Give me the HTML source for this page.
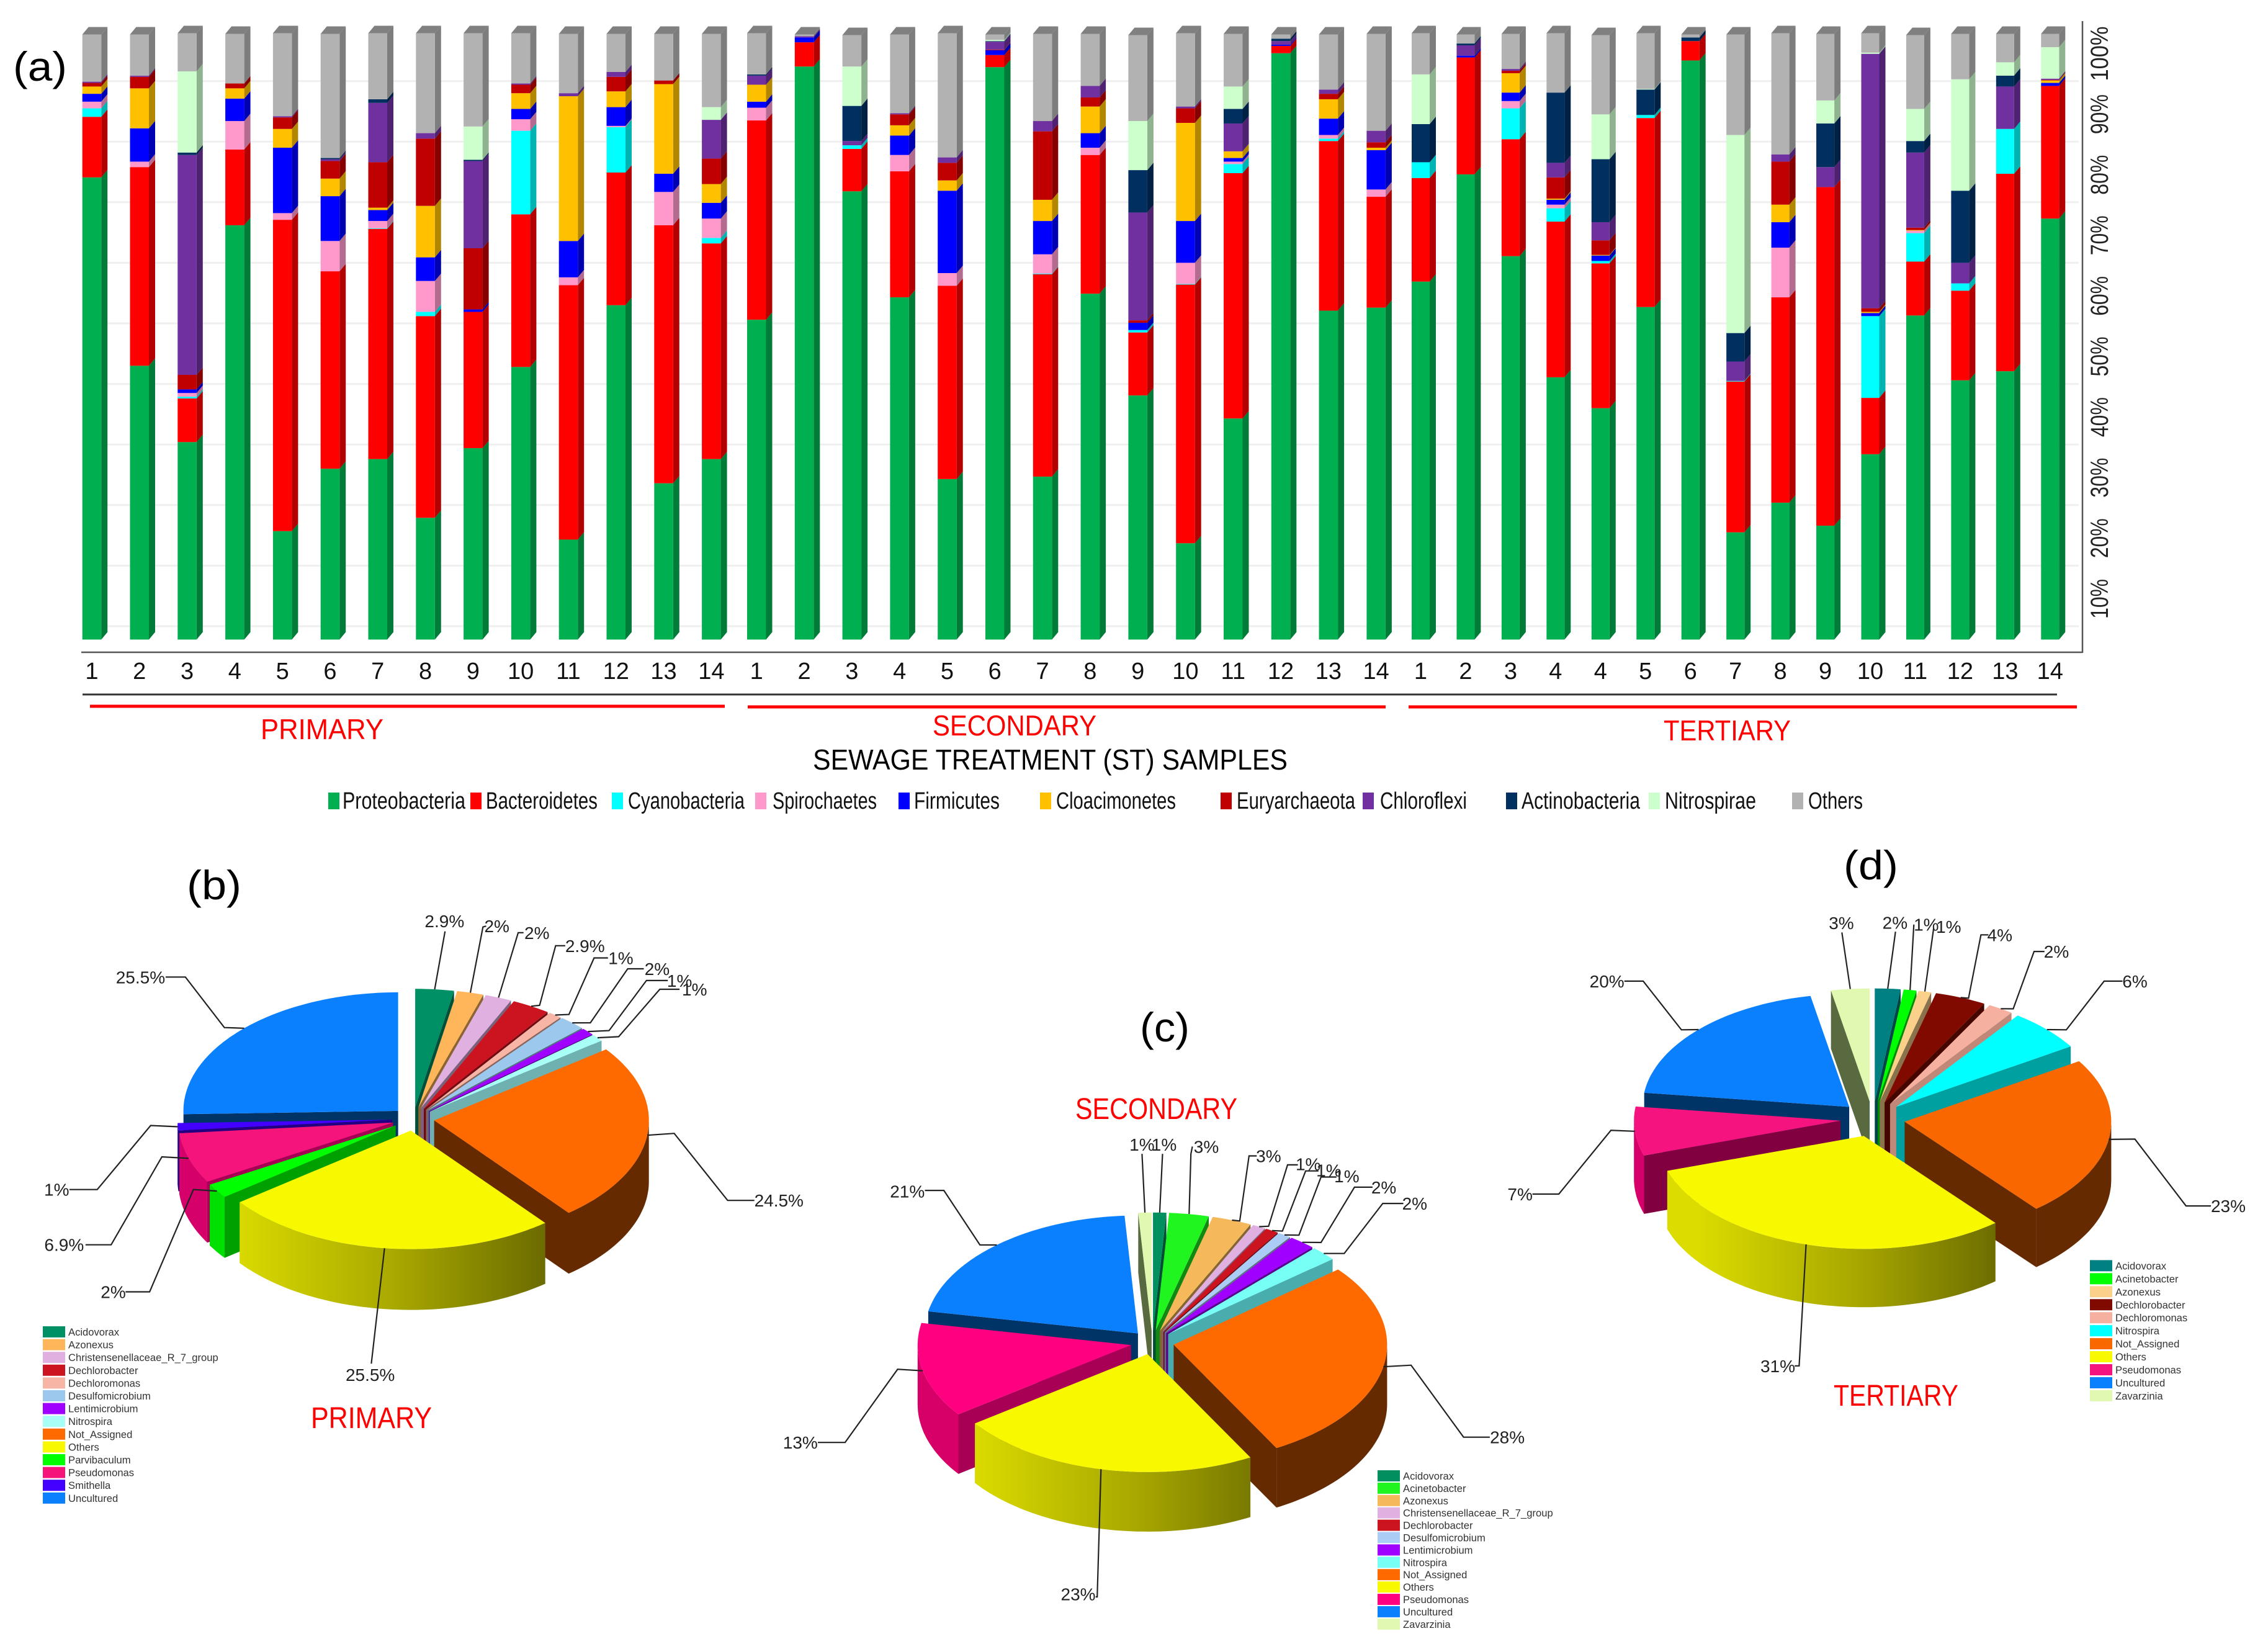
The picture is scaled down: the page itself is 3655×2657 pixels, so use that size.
<!DOCTYPE html>
<html lang="en">
<head>
<meta charset="utf-8">
<title>Sewage treatment microbial community composition</title>
<style>
html,body{margin:0;padding:0;background:#fff;}
svg{display:block;font-family:"Liberation Sans",sans-serif;}
</style>
</head>
<body>
<svg id="figure" xmlns="http://www.w3.org/2000/svg" width="3655" height="2657" viewBox="0 0 3655 2657">
<rect x="0" y="0" width="3655" height="2657" fill="#ffffff"/>
<g id="grid-layer"></g>
<g id="bar-layer"></g>
<g id="axis-layer"></g>

<text x="21" y="130" font-size="66" textLength="87" lengthAdjust="spacingAndGlyphs">(a)</text>
<text x="301" y="1449" font-size="66" textLength="88" lengthAdjust="spacingAndGlyphs">(b)</text>
<text x="1837" y="1678" font-size="66" textLength="80" lengthAdjust="spacingAndGlyphs">(c)</text>
<text x="2971" y="1417" font-size="66" textLength="88" lengthAdjust="spacingAndGlyphs">(d)</text>

<line x1="133" y1="1119" x2="3315" y2="1119" stroke="#333" stroke-width="3"/>
<line x1="145" y1="1138" x2="1168" y2="1138" stroke="#ff0000" stroke-width="5"/>
<line x1="1205" y1="1139" x2="2233" y2="1139" stroke="#ff0000" stroke-width="5"/>
<line x1="2270" y1="1139" x2="3347" y2="1139" stroke="#ff0000" stroke-width="5"/>
<text x="420" y="1191" font-size="46" fill="#ff0000" textLength="198" lengthAdjust="spacingAndGlyphs">PRIMARY</text>
<text x="1503" y="1185" font-size="46" fill="#ff0000" textLength="264" lengthAdjust="spacingAndGlyphs">SECONDARY</text>
<text x="2681" y="1193" font-size="46" fill="#ff0000" textLength="205" lengthAdjust="spacingAndGlyphs">TERTIARY</text>
<text x="1310" y="1240" font-size="46" fill="#000" textLength="765" lengthAdjust="spacingAndGlyphs">SEWAGE TREATMENT (ST) SAMPLES</text>

<g font-size="38" fill="#111">
<g><rect x="529" y="1277" width="18" height="27" fill="#00b050"/><text x="552" y="1303" textLength="198" lengthAdjust="spacingAndGlyphs">Proteobacteria</text></g>
<g><rect x="758" y="1277" width="18" height="27" fill="#ff0000"/><text x="783" y="1303" textLength="180" lengthAdjust="spacingAndGlyphs">Bacteroidetes</text></g>
<g><rect x="986" y="1277" width="18" height="27" fill="#00ffff"/><text x="1012" y="1303" textLength="188" lengthAdjust="spacingAndGlyphs">Cyanobacteria</text></g>
<g><rect x="1217" y="1277" width="18" height="27" fill="#ff99cc"/><text x="1245" y="1303" textLength="168" lengthAdjust="spacingAndGlyphs">Spirochaetes</text></g>
<g><rect x="1448" y="1277" width="18" height="27" fill="#0000ff"/><text x="1473" y="1303" textLength="138" lengthAdjust="spacingAndGlyphs">Firmicutes</text></g>
<g><rect x="1676" y="1277" width="18" height="27" fill="#ffc000"/><text x="1702" y="1303" textLength="193" lengthAdjust="spacingAndGlyphs">Cloacimonetes</text></g>
<g><rect x="1967" y="1277" width="18" height="27" fill="#c00000"/><text x="1993" y="1303" textLength="191" lengthAdjust="spacingAndGlyphs">Euryarchaeota</text></g>
<g><rect x="2196" y="1277" width="18" height="27" fill="#7030a0"/><text x="2224" y="1303" textLength="140" lengthAdjust="spacingAndGlyphs">Chloroflexi</text></g>
<g><rect x="2427" y="1277" width="18" height="27" fill="#002f60"/><text x="2452" y="1303" textLength="191" lengthAdjust="spacingAndGlyphs">Actinobacteria</text></g>
<g><rect x="2657" y="1277" width="18" height="27" fill="#ccffcc"/><text x="2683" y="1303" textLength="147" lengthAdjust="spacingAndGlyphs">Nitrospirae</text></g>
<g><rect x="2888" y="1277" width="18" height="27" fill="#b2b2b2"/><text x="2914" y="1303" textLength="88" lengthAdjust="spacingAndGlyphs">Others</text></g>
</g>

<text x="501" y="2301" font-size="48" fill="#ff0000" textLength="195" lengthAdjust="spacingAndGlyphs">PRIMARY</text>
<text x="1733" y="1803" font-size="48" fill="#ff0000" textLength="261" lengthAdjust="spacingAndGlyphs">SECONDARY</text>
<text x="2955" y="2265" font-size="48" fill="#ff0000" textLength="201" lengthAdjust="spacingAndGlyphs">TERTIARY</text>

<defs id="gradients"></defs>
<g id="pie-b"></g>
<g id="pie-c"></g>
<g id="pie-d"></g>
</svg>

<script>
// ---------- Panel (a) data: percent abundance per sample ----------
const primaryCategories = ['1','2','3','4','5','6','7','8','9','10','11','12','13','14'];
const secondaryCategories = ['1','2','3','4','5','6','7','8','9','10','11','12','13','14'];
const tertiaryCategories = ['1','2','3','4','4','5','6','7','8','9','10','11','12','13','14'];
const yTickLabels = [10,20,30,40,50,60,70,80,90,100];
const gridValues = [0,10,20,30,40,50,60,70,80,90];

const proteobacteria = [76.3,45.2,32.6,68.4,17.9,28.2,29.8,20.1,31.6,45.0,16.5,55.2,25.8,29.8, 52.8,94.6,74.0,56.5,26.5,94.5,26.9,57.1,40.3,15.9,36.5,96.8,54.3,54.8, 59.1,76.8,63.3,43.3,38.2,54.9,95.6,17.7,22.6,18.8,30.6,53.5,42.8,44.3,69.5];
const bacteroidetes = [10.0,32.8,7.2,12.5,51.4,32.6,38.0,33.3,22.5,25.2,42.0,21.9,42.6,35.6, 32.9,4.0,7.0,20.8,31.9,2.0,33.4,22.9,10.4,42.7,40.5,1.2,28.0,18.3, 17.1,19.3,19.3,25.7,23.9,31.2,3.2,24.9,33.9,55.9,9.3,8.9,14.8,32.6,21.9];
const cyanobacteria = [1.4,0,0.3,0,0,0,0.1,0.7,0,13.8,0,7.5,0,0.9, 0,0,0.6,0,0,0,0.1,0,0.4,0.1,1.5,0,0.4,0, 2.6,0,5.1,2.2,0.4,0.5,0,0.1,0,0,13.5,4.7,1.2,7.4,0];
const spirochaetes = [1.1,0.9,0.6,4.7,1.1,5.0,1.2,5.1,0,1.9,1.3,0.2,5.5,3.2, 2.1,0,0,2.7,2.1,0,3.2,1.2,0,3.5,0.4,0,0.6,1.2, 0,0,1.2,0.6,0,0,0,0,8.2,0,0,0.4,0,0,0];
const firmicutes = [1.3,5.5,0.6,3.7,10.8,7.4,1.8,3.9,0.4,1.7,6.0,3.1,3.0,2.6, 1.0,0.8,0,3.2,13.6,0.8,5.5,2.4,1.2,6.9,0.6,0.2,2.7,6.5, 0,0.3,1.4,0.8,0.9,0,0,0,4.2,0,0.5,0,0,0,0.5];
const cloacimonetes = [1.2,6.6,0,1.7,3.1,2.9,0.4,8.5,0,2.6,23.9,2.6,14.8,3.1, 2.8,0,0,1.7,1.7,0,3.5,4.4,0,16.2,1.1,0,3.2,0.4, 0,0,3.2,0.2,0.1,0,0,0,2.9,0,0.2,0.1,0,0,0.4];
const euryarchaeota = [0.6,1.9,2.4,0.8,1.9,2.9,7.5,11.1,10.1,1.4,0,2.4,0.6,4.2, 0,0,0,1.8,2.9,0.1,11.3,1.5,0.4,2.4,0,0,0.9,0.9, 0,0,0.4,3.5,2.4,0,0,0,7.1,0,0.6,0.4,0,0,0.1];
const chloroflexi = [0.2,0.2,36.3,0,0.2,0.3,9.8,0.9,14.4,0.2,0.5,0.8,0,6.4, 1.5,0.2,0.7,0.2,0.9,1.3,1.7,1.9,17.8,0.3,4.6,0.6,0.7,1.9, 0,1.7,0.3,2.4,3.0,0,0,3.2,1.2,3.3,42.0,12.4,3.4,7.0,0.2];
const actinobacteria = [0,0,0.4,0,0,0.2,0.6,0,0.2,0,0,0,0,0, 0.2,0,5.8,0,0,0.1,0,0,7.0,0,2.4,0.4,0,0, 6.3,0.3,0,11.6,10.4,4.2,0.6,4.7,0,7.2,0,1.9,11.9,1.8,0];
const nitrospirae = [0,0,13.4,0,0,0,0,0,5.5,0,0,0,0,2.1, 0,0,6.5,0,0,0.2,0,0,8.1,0,3.7,0,0,0, 8.2,0,0,0,7.4,0.1,0,32.7,0,3.8,0.2,5.3,18.4,2.2,5.2];
const othersPhyla = [7.8,6.8,6.3,8.2,13.7,20.5,10.9,16.5,15.4,8.3,9.8,6.3,7.7,12.1, 6.8,0.3,5.2,13.0,20.5,0.9,14.4,8.6,14.2,12.1,8.7,0.7,9.1,16.0, 6.8,1.5,5.8,9.8,13.1,9.2,0.5,16.6,20.0,11.0,3.2,12.2,7.5,4.7,2.2];

const seriesNames = ['proteobacteria','bacteroidetes','cyanobacteria','spirochaetes','firmicutes','cloacimonetes','euryarchaeota','chloroflexi','actinobacteria','nitrospirae','others'];
const seriesColors = ['#00b050','#ff0000','#00ffff','#ff99cc','#0000ff','#ffc000','#c00000','#7030a0','#002f60','#ccffcc','#b2b2b2'];
const stackedSeries = [proteobacteria,bacteroidetes,cyanobacteria,spirochaetes,firmicutes,cloacimonetes,euryarchaeota,chloroflexi,actinobacteria,nitrospirae,othersPhyla];

// ---------- Pie data ----------
const pieBTaxa = ['Acidovorax','Azonexus','Christensenellaceae_R_7_group','Dechlorobacter','Dechloromonas','Desulfomicrobium','Lentimicrobium','Nitrospira','Not_Assigned','Others','Parvibaculum','Pseudomonas','Smithella','Uncultured'];
const pieBValues = [2.9,2,2,2.9,1,2,1,1,24.5,25.5,2,6.9,1,25.5];
const pieBColors = ['#009066','#ffb55a','#dfb0e0','#cc1420','#f7b5a5','#9cc8ee','#a000ff','#a8fff5','#ff6a00','#f8f800','#00ff00','#f5147a','#4400ff','#0a80ff'];
const pieBLabelSpots = [[832,148],[930,160],[1005,175],[1095,205],[1162,233],[1230,258],[1272,285],[1300,305],[1458,790],[693,1190],[212,1000],[120,892],[106,765],[263,277]];
const pieBElbows = [[[833,172]],[[910,160],[904,162]],[[980,175],[970,175]],[[1058,205],[1040,205],[1010,342]],[[1138,233],[1112,233],[1065,363]],[[1205,258],[1175,258],[1105,382]],[[1250,285],[1210,285],[1140,400]],[[1272,305],[1235,305],[1158,414]],[[1412,790],[1362,790],[1262,636]],[[695,1165]],[[235,1000],[280,1000],[362,765]],[[160,892],[208,892],[303,690]],[[130,765],[182,765],[282,618]],[[310,277],[347,277],[420,393]]];
const pieBShades = {'Not_Assigned':['#662a00','#662a00'],'Uncultured':['#003366','#003366'],'Pseudomonas':['#a50052','#d6006a'],'Parvibaculum':['#00a000','#00e000'],'Nitrospira':['#6fb0b0','#6fb0b0'],'Smithella':['#220080','#220080']};

const pieCTaxa = ['Acidovorax','Acinetobacter','Azonexus','Christensenellaceae_R_7_group','Dechlorobacter','Desulfomicrobium','Lentimicrobium','Nitrospira','Not_Assigned','Others','Pseudomonas','Uncultured','Zavarzinia'];
const pieCValues = [1,3,3,1,1,1,2,2,28,23,13,21,1];
const pieCColors = ['#00905f','#20f520','#f5b85a','#e0b0e0','#cc1420','#aaccf5','#a000ff','#77fff5','#ff6a00','#f8f800','#ff0080','#0a80ff','#e0f8b0'];
const pieCLabelSpots = [[755,327],[837,332],[958,355],[1035,375],[1075,390],[1110,405],[1182,432],[1242,472],[1422,1047],[588,1433],[48,1060],[256,442],[712,327]];
const pieCElbows = [[[752,350]],[[810,332],[807,350]],[[935,355],[920,355],[902,515]],[[1015,377],[995,377],[958,528]],[[1055,392],[1030,392],[985,540]],[[1090,407],[1060,407],[1017,550]],[[1160,432],[1125,432],[1060,568]],[[1220,472],[1180,472],[1105,595]],[[1388,1047],[1337,1047],[1235,870]],[[622,1440],[625,1440]],[[82,1060],[135,1060],[237,880]],[[290,440],[327,440],[397,574]],[[712,350]]];
const pieCShades = {'Not_Assigned':['#662a00','#662a00'],'Uncultured':['#003366','#003366'],'Pseudomonas':['#a80055','#d60068'],'Nitrospira':['#4aadad','#4aadad'],'Zavarzinia':['#5a6a40','#5a6a40']};

const pieDTaxa = ['Acidovorax','Acinetobacter','Azonexus','Dechlorobacter','Dechloromonas','Nitrospira','Not_Assigned','Others','Pseudomonas','Uncultured','Zavarzinia'];
const pieDValues = [2,1,1,4,2,6,23,31,7,20,3];
const pieDColors = ['#008080','#00ff00','#fad08a','#800a00','#f5b0a0','#00ffff','#f96800','#f8f800','#f5147f','#0a80ff','#e0f8b0'];
const pieDLabelSpots = [[817,167],[880,172],[925,177],[1028,198],[1142,240],[1300,315],[1488,883],[581,1287],[62,853],[237,315],[709,168]];
const pieDElbows = [[[818,190]],[[855,172]],[[895,180]],[[1005,198],[990,198],[965,358]],[[1118,240],[1097,240],[1055,385]],[[1275,315],[1238,315],[1162,438]],[[1453,883],[1403,883],[1300,714]],[[615,1287],[624,1287]],[[87,853],[140,853],[245,692]],[[272,315],[310,315],[387,438]],[[710,192]]];
const pieDShades = {'Not_Assigned':['#662a00','#662a00'],'Uncultured':['#003366','#003366'],'Pseudomonas':['#800040','#d6006a'],'Nitrospira':['#00a0a0','#00a0a0'],'Zavarzinia':['#5a6a40','#5a6a40'],'Dechloromonas':['#c08878','#c08878']};

// ---------- Helpers ----------
const NS = 'http://www.w3.org/2000/svg';
function make(tag, attrs, parent) {
  const node = document.createElementNS(NS, tag);
  Object.keys(attrs).forEach(function (k) { node.setAttribute(k, attrs[k]); });
  parent.appendChild(node);
  return node;
}
function darken(hex, f) {
  const n = parseInt(hex.slice(1), 16);
  const r = Math.round(((n >> 16) & 255) * f);
  const g = Math.round(((n >> 8) & 255) * f);
  const b = Math.round((n & 255) * f);
  return 'rgb(' + r + ',' + g + ',' + b + ')';
}
function pts(list) {
  return list.map(function (p) { return p[0].toFixed(1) + ',' + p[1].toFixed(1); }).join(' ');
}

// ---------- Bar axes ----------
const Y_BASE = 1030.5, Y_PER_PCT = 9.76, DEPTH_X = 10, DEPTH_Y = 12, WALL_OFFSET = 21.5;
const groupStarts = [132.7, 1204, 2275];
const groupPitch = [76.8, 76.8, 72.45];
const groupBarWidth = [30.5, 30.5, 29];
const groupCategories = [primaryCategories, secondaryCategories, tertiaryCategories];
function yScale(v) { return Y_BASE - v * Y_PER_PCT; }
function xScale(g, i) { return groupStarts[g] + i * groupPitch[g]; }

const gridLayer = document.getElementById('grid-layer');
gridValues.forEach(function (v) {
  const line = make('line', {x1: 133, x2: 3350, y1: yScale(v) - WALL_OFFSET, y2: yScale(v) - WALL_OFFSET, stroke: '#efefef', 'stroke-width': 3}, gridLayer);
  
  
});

const barLayer = document.getElementById('bar-layer');
let sampleIndex = 0;
groupCategories.forEach(function (cats, g) {
  cats.forEach(function (cat, i) {
    const x = xScale(g, i), w = groupBarWidth[g];
    const barGroup = make('g', {}, barLayer);
    
    
    let cum = 0;
    stackedSeries.forEach(function (series, s) {
      const val = series[sampleIndex];
      if (!(val > 0)) return;
      const y0 = yScale(cum), y1 = yScale(cum + val);
      cum += val;
      const side = make('polygon', {points: pts([[x + w, y0], [x + w + DEPTH_X, y0 - DEPTH_Y], [x + w + DEPTH_X, y1 - DEPTH_Y], [x + w, y1]]), fill: darken(seriesColors[s], 0.7)}, barGroup);
      
      
      const front = make('rect', {x: x, y: y1, width: w, height: y0 - y1, fill: seriesColors[s]}, barGroup);
      
      
    });
    const ty = yScale(cum);
    const cap = make('polygon', {points: pts([[x, ty], [x + DEPTH_X, ty - DEPTH_Y], [x + w + DEPTH_X, ty - DEPTH_Y], [x + w, ty]]), fill: '#808080'}, barGroup);
    
    
    sampleIndex++;
  });
});

const axisLayer = document.getElementById('axis-layer');
const xAxisLine = make('line', {x1: 131, y1: 1051, x2: 3356, y2: 1051, stroke: '#555', 'stroke-width': 2.5}, axisLayer);


const yAxisLine = make('line', {x1: 3356, y1: 34, x2: 3356, y2: 1052, stroke: '#555', 'stroke-width': 2.5}, axisLayer);



groupCategories.forEach(function (cats, g) {
  cats.forEach(function (cat, i) {
    const tick = make('text', {x: xScale(g, i) + groupBarWidth[g] / 2, y: 1094, 'font-size': 38, 'text-anchor': 'middle', fill: '#111'}, axisLayer);
    tick.textContent = cat;
    
    
  });
});
yTickLabels.forEach(function (v) {
  const cy = yScale(v) + 32;
  const label = make('text', {transform: 'translate(3397,' + cy + ') rotate(-90)', 'font-size': 40, 'text-anchor': 'middle', fill: '#222', textLength: v === 100 ? 88 : 64, lengthAdjust: 'spacingAndGlyphs'}, axisLayer);
  label.textContent = v + '%';
  
  
});

// ---------- Pies ----------
function drawPie(cfg) {
  const group = document.getElementById(cfg.id);
  const total = cfg.values.reduce(function (a, b) { return a + b; }, 0);
  const ratio = cfg.ry / cfg.rx;
  const rad = Math.PI / 180;
  const gradId = cfg.id + '-others-side';
  const grad = make('linearGradient', {id: gradId, gradientUnits: 'userSpaceOnUse', x1: cfg.cx - cfg.rx * 0.85, x2: cfg.cx + cfg.rx * 0.68, y1: 0, y2: 0}, document.getElementById('gradients'));
  make('stop', {offset: '0', 'stop-color': '#dcdc00'}, grad);
  make('stop', {offset: '0.5', 'stop-color': '#a8a800'}, grad);
  make('stop', {offset: '1', 'stop-color': '#666600'}, grad);

  let running = 0;
  const slices = cfg.values.map(function (v, i) {
    const start = running / total * 360;
    running += v;
    const end = running / total * 360;
    const mid = (start + end) / 2;
    const ax = cfg.cx + cfg.explode * Math.sin(mid * rad);
    const ay = cfg.cy - cfg.explode * ratio * Math.cos(mid * rad);
    return {i: i, start: start, end: end, mid: mid, ax: ax, ay: ay};
  });
  function rim(s, t) {
    return [s.ax + cfg.rx * Math.sin(t * rad), s.ay - cfg.ry * Math.cos(t * rad)];
  }
  slices.slice().sort(function (a, b) { return -Math.cos(a.mid * rad) - -Math.cos(b.mid * rad); }).forEach(function (s) {
    const taxon = cfg.taxa[s.i];
    const color = cfg.colors[s.i];
    const shades = cfg.shades[taxon] || [darken(color, 0.55), darken(color, 0.7)];
    const sliceGroup = make('g', {}, group);
    
    
    [[s.start, s.start - 90], [s.end, s.end + 90]].forEach(function (face) {
      if (Math.cos(face[1] * rad) < 0 && taxon !== 'Others') {
        const r = rim(s, face[0]);
        const wall = make('polygon', {points: pts([[s.ax, s.ay], r, [r[0], r[1] + cfg.depth], [s.ax, s.ay + cfg.depth]]), fill: shades[0]}, sliceGroup);
        
        
      }
    });
    const a = Math.max(s.start, 90), b = Math.min(s.end, 270);
    if (b > a) {
      const upper = [], lower = [];
      for (let t = a; t < b; t += 1.5) {
        const r = rim(s, t);
        upper.push(r);
        lower.unshift([r[0], r[1] + cfg.depth]);
      }
      const last = rim(s, b);
      upper.push(last);
      lower.unshift([last[0], last[1] + cfg.depth]);
      const wallFill = taxon === 'Others' ? 'url(#' + gradId + ')' : shades[1];
      const outer = make('polygon', {points: pts(upper.concat(lower)), fill: wallFill}, sliceGroup);
      
      
    }
    const topPts = [[s.ax, s.ay]];
    for (let t = s.start; t < s.end; t += 1) { topPts.push(rim(s, t)); }
    topPts.push(rim(s, s.end));
    const top = make('polygon', {points: pts(topPts), fill: color}, sliceGroup);
    
    
  });

  function fromCrop(p) {
    return [cfg.cropX + p[0] / cfg.cropFx, cfg.cropY + p[1] / cfg.cropFy];
  }
  slices.forEach(function (s) {
    const anchor = rim(s, s.mid);
    const linePts = cfg.elbows[s.i].map(fromCrop);
    linePts.push(anchor);
    const leader = make('polyline', {points: pts(linePts), fill: 'none', stroke: '#222', 'stroke-width': 2.2}, group);
    
    
    const spot = fromCrop(cfg.labelSpots[s.i]);
    const label = make('text', {x: spot[0], y: spot[1] + 10, 'font-size': 28, 'text-anchor': 'middle', fill: '#222'}, group);
    label.textContent = cfg.values[s.i] + '%';
    
    
  });

  const legend = make('g', {}, group);
  
  
  cfg.taxa.forEach(function (name, i) {
    const cy = cfg.legendY + i * cfg.legendStep;
    const swatch = make('rect', {x: cfg.legendX, y: cy - 9, width: 36, height: 18, fill: cfg.colors[i]}, legend);
    
    
    const txt = make('text', {x: cfg.legendX + 41, y: cy + 6, 'font-size': 16.6, fill: '#333'}, legend);
    txt.textContent = name;
    
    
  });
}

drawPie({id: 'pie-b', taxa: pieBTaxa, values: pieBValues, colors: pieBColors, shades: pieBShades, labelSpots: pieBLabelSpots, elbows: pieBElbows,
  cx: 666, cy: 1803, rx: 346, ry: 191, depth: 98, explode: 34,
  cropX: 0, cropY: 1380, cropFx: 1.1615, cropFy: 1.4255, legendX: 69, legendY: 2146, legendStep: 20.6});
drawPie({id: 'pie-c', taxa: pieCTaxa, values: pieCValues, colors: pieCColors, shades: pieCShades, labelSpots: pieCLabelSpots, elbows: pieCElbows,
  cx: 1857, cy: 2163, rx: 344, ry: 190, depth: 96, explode: 35,
  cropX: 1250, cropY: 1630, cropFx: 1.206, cropFy: 1.527, legendX: 2220, legendY: 2378, legendStep: 19.9});
drawPie({id: 'pie-d', taxa: pieDTaxa, values: pieDValues, colors: pieDColors, shades: pieDShades, labelSpots: pieDLabelSpots, elbows: pieDElbows,
  cx: 3018, cy: 1803, rx: 333, ry: 182, depth: 94, explode: 52,
  cropX: 2400, cropY: 1380, cropFx: 1.2494, cropFy: 1.568, legendX: 3368, legendY: 2039.4, legendStep: 20.95});
</script>
</body>
</html>
